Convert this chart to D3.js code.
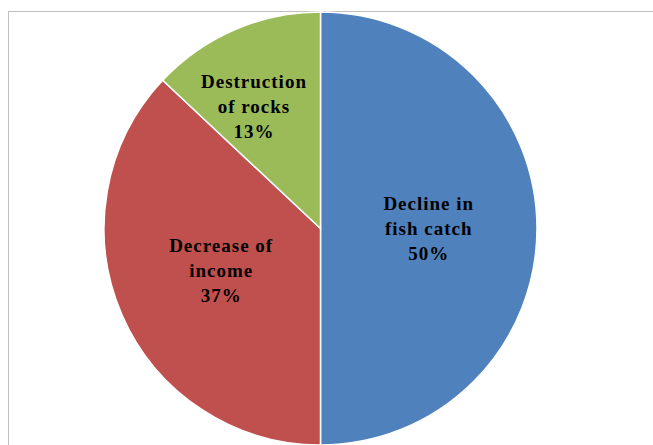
<!DOCTYPE html>
<html>
<head>
<meta charset="utf-8">
<script src="https://cdn.jsdelivr.net/npm/d3@7/dist/d3.min.js"></script>
<style>
  html, body { margin: 0; padding: 0; background: #fff; }
  svg { display: block; }
</style>
</head>
<body>
<svg id="chart" width="653" height="445"></svg>
<script>
// Slice categories (label lines) and their shares in percent
const categories = [
  ["Decline in", "fish catch"],
  ["Decrease of", "income"],
  ["Destruction", "of rocks"]
];
const values = [50, 37, 13];
const colors = ["#4F81BD", "#C0504D", "#9BBB59"];

// Label placement: radius as a fraction of the pie radius, plus an angular nudge (degrees)
const labelRadius = [0.5, 0.5, 0.64];
const labelNudge = [0, 0, -5.3];

const width = 653, height = 445;
const cx = 320.5, cy = 228.5, R = 216.5;

const svg = d3.select("#chart");

// Chart-area frame
svg.append("rect")
  .attr("x", 8.5).attr("y", 11.5)
  .attr("width", 700).attr("height", 500)
  .attr("fill", "none")
  .attr("stroke", "#bfbfbf")
  .attr("stroke-width", 1);

const data = values.map((v, i) => ({ value: v, lines: categories[i], color: colors[i], i }));

const pie = d3.pie().value(d => d.value).sort(null);
const arc = d3.arc().innerRadius(0).outerRadius(R);
const arcs = pie(data);

const g = svg.append("g").attr("transform", `translate(${cx},${cy})`);

g.selectAll("path.slice")
  .data(arcs)
  .join("path")
  .attr("class", "slice")
  .attr("d", arc)
  .attr("fill", d => d.data.color)
  .attr("stroke", "#fff")
  .attr("stroke-width", 1.5);

const lineH = 25;
const labels = g.selectAll("text.lbl")
  .data(arcs)
  .join("text")
  .attr("class", "lbl")
  .attr("text-anchor", "middle")
  .attr("font-family", "'Times New Roman', 'Liberation Serif', serif")
  .attr("font-weight", "bold")
  .attr("font-size", 19)
  .attr("letter-spacing", 1)
  .attr("fill", "#000")
  .attr("transform", d => {
    const i = d.data.i;
    const mid = (d.startAngle + d.endAngle) / 2 + labelNudge[i] * Math.PI / 180;
    const [x, y] = d3.pointRadial(mid, R * labelRadius[i]);
    return `translate(${x},${y})`;
  });

labels.each(function(d) {
  const t = d3.select(this);
  const rows = [...d.data.lines, d.data.value + "%"];
  rows.forEach((s, k) => {
    t.append("tspan")
      .attr("x", 0)
      .attr("y", (k - 1) * lineH + 6)
      .text(s);
  });
});
</script>
</body>
</html>
